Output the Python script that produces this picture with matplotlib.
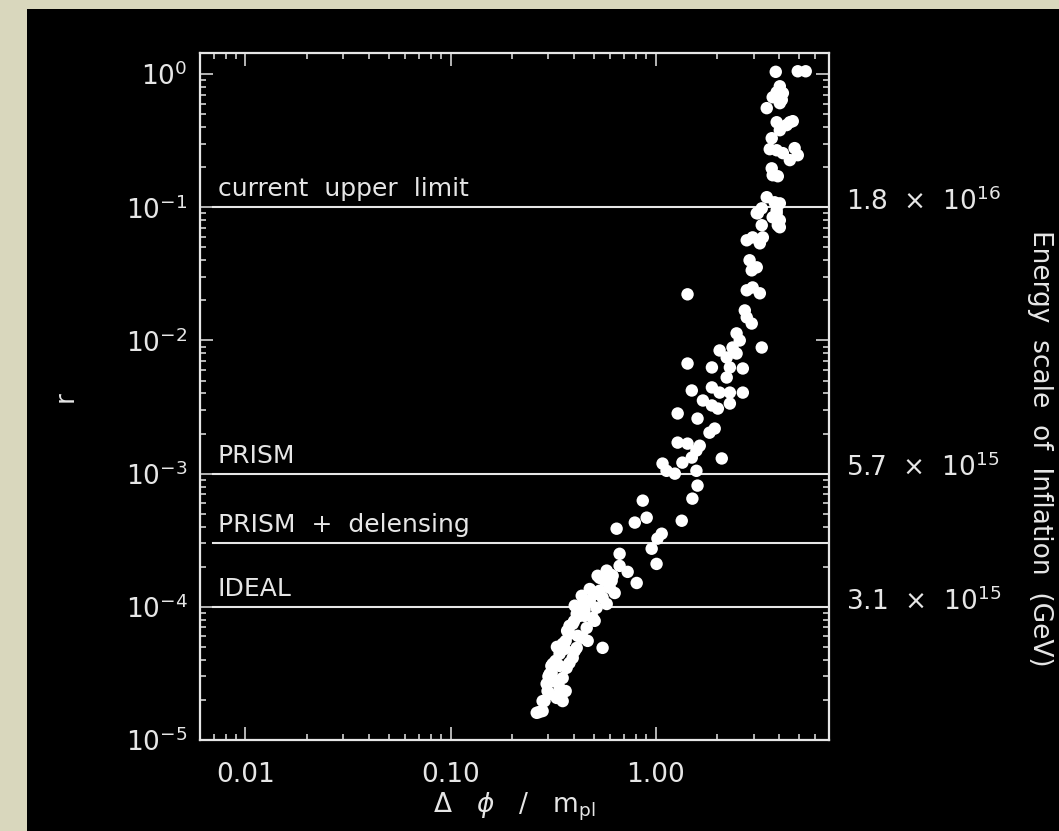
import numpy as np
import matplotlib
matplotlib.use("Agg")
import matplotlib.pyplot as plt
from matplotlib.patches import Rectangle
from matplotlib.ticker import FixedLocator, LogLocator, NullFormatter, FixedFormatter

# field excursion (delta phi / m_pl) and tensor-to-scalar ratio r
dphi_top = [3.85, 4.93, 5.39, 4.03, 3.89, 4.17, 4.12, 3.72, 3.48, 4.03, 4.51, 4.66, 4.35,
            3.89, 3.68, 4.03, 3.60, 3.89, 4.17, 4.76, 4.93, 4.51, 3.68, 3.72, 3.94, 3.48,
            3.80, 4.03, 3.29, 3.15, 3.89, 3.29, 3.94]
r_top = [1.04, 1.05, 1.05, 0.81, 0.73, 0.72, 0.64, 0.67, 0.555, 0.605, 0.435, 0.443, 0.414,
         0.435, 0.330, 0.379, 0.273, 0.268, 0.255, 0.278, 0.246, 0.226, 0.196, 0.174, 0.171,
         0.119, 0.109, 0.107, 0.0982, 0.0902, 0.0902, 0.0733, 0.0733]

dphi_mid = [3.11, 3.89, 4.03, 4.03, 3.72, 2.97, 2.78, 3.22, 3.33, 2.87, 3.11, 2.94, 2.78,
            2.97, 3.22, 1.43, 2.72, 2.78, 2.94, 2.48, 2.57, 2.37, 2.05, 3.29, 2.22, 2.48,
            1.43, 1.88, 2.30, 2.66, 2.22, 1.50, 1.88, 2.05, 2.30, 2.66, 1.70, 1.88]
r_mid = [0.0902, 0.0949, 0.0798, 0.0708, 0.0841, 0.0594, 0.0565, 0.0536, 0.0594, 0.0400,
         0.0354, 0.0336, 0.0238, 0.0250, 0.0226, 0.0222, 0.0168, 0.0149, 0.0134, 0.0113,
         0.0100, 0.00885, 0.00841, 0.00885, 0.00745, 0.00798, 0.00671, 0.00627, 0.00627,
         0.00616, 0.00527, 0.00421, 0.00444, 0.00406, 0.00406, 0.00406, 0.00354, 0.00325]

dphi_low = [1.28, 1.60, 1.94, 1.83, 2.01, 2.30, 1.28, 1.43, 1.64, 1.58, 1.50, 1.35, 2.10,
            1.08, 1.13, 1.24, 1.58, 1.60, 1.51, 0.865, 0.904, 0.791, 1.34, 0.645, 1.07,
            1.02, 0.956, 0.667, 1.01, 0.730, 0.808]
r_low = [0.00283, 0.00259, 0.00218, 0.00203, 0.00308, 0.00336, 0.00171, 0.00168, 0.00162,
         0.00149, 0.00132, 0.00121, 0.00130, 0.00119, 0.00105, 0.00100, 0.00105, 0.000813,
         0.000649, 0.000627, 0.000467, 0.000429, 0.000443, 0.000386, 0.000354, 0.000325,
         0.000273, 0.000250, 0.000210, 0.000183, 0.000151]

dphi_band = [0.577, 0.533, 0.597, 0.477, 0.551, 0.441, 0.515, 0.577, 0.412, 0.493, 0.394,
             0.461, 0.380, 0.441, 0.352, 0.412, 0.551, 0.340, 0.394, 0.315, 0.368, 0.304,
             0.352, 0.294, 0.340, 0.304, 0.352, 0.329, 0.281, 0.263, 0.617, 0.509, 0.426,
             0.364, 0.325, 0.315, 0.287, 0.564, 0.46, 0.40, 0.37, 0.33, 0.31, 0.30, 0.27,
             0.60, 0.53, 0.45,
             0.403, 0.477, 0.533, 0.610, 0.451, 0.380, 0.504, 0.417, 0.360, 0.466, 0.340,
             0.403, 0.297, 0.281, 0.333, 0.380, 0.311, 0.364, 0.667, 0.631, 0.521, 0.436]
r_band = [0.000187, 0.000165, 0.000139, 0.000136, 0.000117, 0.000105, 0.0000983, 0.000105,
          0.0000885, 0.0000826, 0.0000745, 0.0000695, 0.0000627, 0.0000585, 0.0000527,
          0.0000492, 0.0000492, 0.0000444, 0.0000414, 0.0000373, 0.0000348, 0.0000313,
          0.0000292, 0.0000264, 0.0000246, 0.0000222, 0.0000196, 0.0000207, 0.0000165,
          0.0000160, 0.000171, 0.000125, 0.0000855, 0.0000555, 0.0000393, 0.0000278,
          0.0000196, 0.000157, 0.000110, 0.000078, 0.000066, 0.000050, 0.000036, 0.000030,
          0.0000162, 0.000175, 0.00013, 0.000095,
          0.000102, 0.000111, 0.000132, 0.000157, 0.0000855, 0.0000720, 0.0000785,
          0.0000605, 0.0000483, 0.0000555, 0.0000360, 0.0000467, 0.0000233, 0.0000196,
          0.0000278, 0.0000379, 0.0000319, 0.0000233, 0.000203, 0.000127, 0.000171, 0.000121]

# sensitivity limits
limit_r = [0.1, 1e-3, 3e-4, 1e-4]
limit_names = ["current  upper  limit", "PRISM", "PRISM  +  delensing", "IDEAL"]
energy_r = [0.1, 1e-3, 1e-4]
energy_labels = [r"1.8  $\times$  10$^{16}$", r"5.7  $\times$  10$^{15}$", r"3.1  $\times$  10$^{15}$"]

xticks = [0.01, 0.1, 1.0]
xticklabels = ["0.01", "0.10", "1.00"]
yticks = [1e-5, 1e-4, 1e-3, 1e-2, 1e-1, 1e0]

fg = "#e6e6e6"
plt.rcParams.update({'font.size': 18, 'font.family': 'DejaVu Sans'})

fig = plt.figure(figsize=(10.59, 8.31), dpi=100)
fig.patch.set_facecolor("#d9d7bd")
fig.patches.append(Rectangle((27/1059, 0), 1.0, 1 - 9/831, transform=fig.transFigure,
                             facecolor="black", edgecolor="none", zorder=-10))

ax = fig.add_axes([200/1059, 1 - 740/831, 629/1059, 687/831])
ax.set_facecolor("black")
ax.set_xscale("log")
ax.set_yscale("log")
ax.set_xlim(0.006, 7.0)
ax.set_ylim(1e-5, 1.44)

dphi = dphi_top + dphi_mid + dphi_low + dphi_band
r = r_top + r_mid + r_low + r_band
ax.scatter(dphi, r, s=80, color="white", edgecolors="none", zorder=3)

for yv, name in zip(limit_r, limit_names):
    ax.axhline(yv, xmin=0.02, xmax=1.0, color=fg, lw=1.5, zorder=2)
    ax.annotate(name, xy=(0.0286, yv), xycoords=("axes fraction", "data"),
                xytext=(0, 8), textcoords="offset points", va="baseline", ha="left",
                color=fg, fontsize=18)

for yv, lab in zip(energy_r, energy_labels):
    ax.annotate(lab, xy=(1.027, yv), xycoords=("axes fraction", "data"),
                xytext=(0, 4), textcoords="offset points", va="center", ha="left",
                color=fg, fontsize=19, annotation_clip=False)

fig.text(1040/1059, 1 - 448/831, "Energy  scale  of  Inflation  (GeV)", rotation=-90,
         ha="center", va="center", color=fg, fontsize=19)

ax.xaxis.set_major_locator(FixedLocator(xticks))
ax.xaxis.set_major_formatter(FixedFormatter(xticklabels))
ax.xaxis.set_minor_locator(LogLocator(base=10, subs=np.arange(2, 10), numticks=20))
ax.xaxis.set_minor_formatter(NullFormatter())
ax.yaxis.set_major_locator(FixedLocator(yticks))
ax.yaxis.set_minor_locator(LogLocator(base=10, subs=np.arange(2, 10), numticks=20))
ax.yaxis.set_minor_formatter(NullFormatter())

ax.tick_params(which="both", direction="in", top=True, right=True, colors=fg, width=1.1)
ax.tick_params(which="major", length=9.5)
ax.tick_params(which="minor", length=4.5)
ax.tick_params(axis="x", which="major", pad=16, labelsize=19)
ax.tick_params(axis="y", which="major", pad=9, labelsize=19)
for sp in ax.spines.values():
    sp.set_color(fg)
    sp.set_linewidth(1.6)

ax.set_xlabel(r"$\Delta$   $\phi$   /   m$_{\rm pl}$", color=fg, fontsize=19, labelpad=2)
ax.set_ylabel("r", color=fg, fontsize=19, labelpad=34)

fig.savefig("out.png", dpi=100, facecolor=fig.get_facecolor())
